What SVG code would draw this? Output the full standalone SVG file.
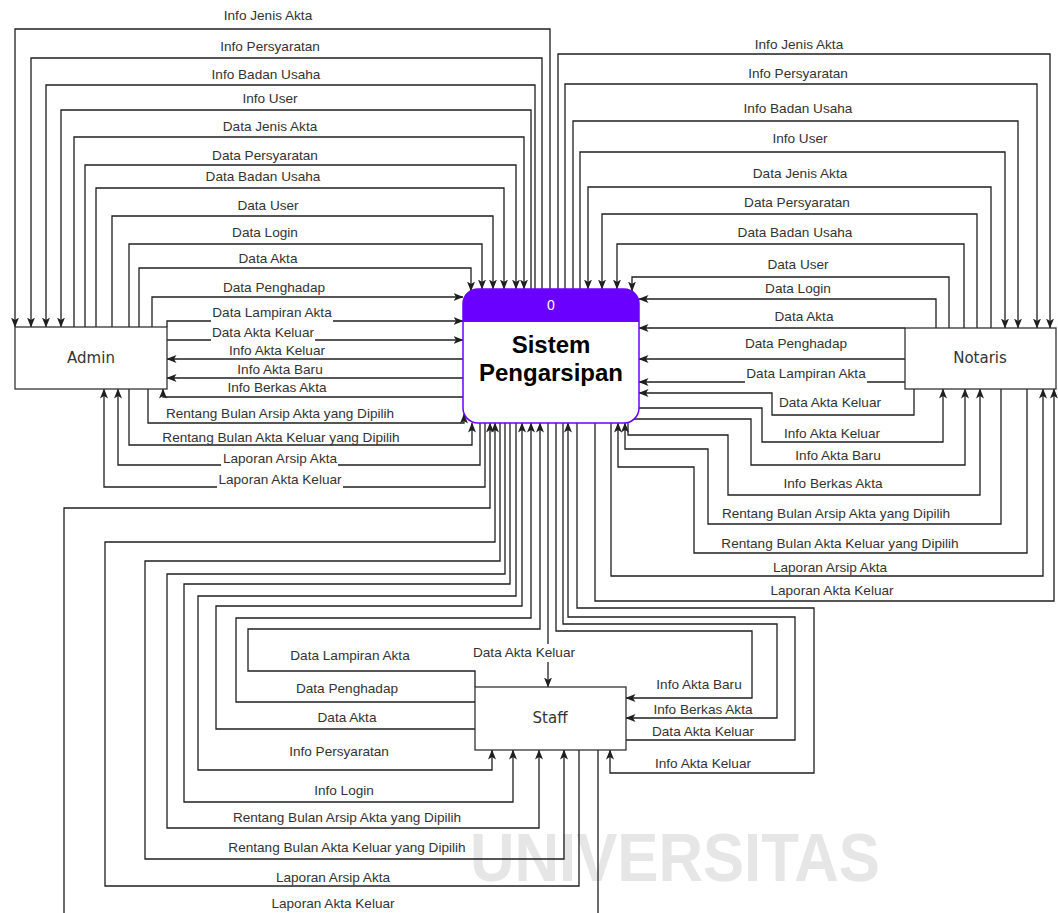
<svg xmlns="http://www.w3.org/2000/svg" width="1058" height="913" viewBox="0 0 1058 913">
<style>
.ln{fill:none;stroke:#1f1f1f;stroke-width:1.3;marker-end:url(#ah)}
.lb{font-family:"Liberation Sans",Arial,sans-serif;font-size:13.6px;fill:#333;text-anchor:middle}
.bg{fill:#fff}
.ent{fill:#fff;stroke:#333;stroke-width:1.3}
.et{font-family:"DejaVu Sans",Verdana,sans-serif;font-size:15px;fill:#333;text-anchor:middle}
.wm{font-family:"Liberation Sans",Arial,sans-serif;font-size:68px;font-weight:bold;fill:#e6e6e6}
</style>
<defs>
<marker id="ah" viewBox="0 0 10 8" refX="9.5" refY="4" markerWidth="10" markerHeight="8" markerUnits="userSpaceOnUse" orient="auto">
<path d="M0,0 L10,4 L0,8 L2.5,4z" fill="#1f1f1f"/>
</marker>
</defs>
<rect width="1058" height="913" fill="#fff"/>

<!-- background watermark lettering -->
<text class="wm" x="470" y="881" textLength="410" lengthAdjust="spacingAndGlyphs">UNIVERSITAS</text>

<g id="connectors">
<!-- Admin flows -->
<path class="ln" d="M550,289 V29 H15 V327"/>
<path class="ln" d="M542,289 V58 H31 V327"/>
<path class="ln" d="M535,289 V85 H46 V327"/>
<path class="ln" d="M531,289 V110 H61 V327"/>
<path class="ln" d="M74,327 V137 H524 V289"/>
<path class="ln" d="M85,327 V165 H516 V289"/>
<path class="ln" d="M96,327 V188 H504 V289"/>
<path class="ln" d="M112,327 V216 H493 V289"/>
<path class="ln" d="M129,327 V244 H482 V289"/>
<path class="ln" d="M139,327 V268 H471 V291"/>
<path class="ln" d="M152,327 V297 H463"/>
<path class="ln" d="M167,327 V321 H463"/>
<path class="ln" d="M167,340 H463"/>
<path class="ln" d="M463,359 H167"/>
<path class="ln" d="M463,378 H167"/>
<path class="ln" d="M463,397 H163 V389"/>
<path class="ln" d="M148,389 V423 H464 V414"/>
<path class="ln" d="M129,389 V445 H472 V423"/>
<path class="ln" d="M480,423 V465 H118 V389"/>
<path class="ln" d="M485,423 V487 H104 V389"/>
<!-- Notaris flows -->
<path class="ln" d="M558,289 V54 H1050 V328"/>
<path class="ln" d="M565,289 V84 H1037 V328"/>
<path class="ln" d="M573,289 V121 H1018 V328"/>
<path class="ln" d="M580,289 V152 H1005 V328"/>
<path class="ln" d="M991,328 V187 H588 V289"/>
<path class="ln" d="M977,328 V214 H602 V289"/>
<path class="ln" d="M964,328 V244 H617 V289"/>
<path class="ln" d="M949,328 V277 H632 V291"/>
<path class="ln" d="M936,328 V299 H639"/>
<path class="ln" d="M905,328 H639"/>
<path class="ln" d="M905,359 H639"/>
<path class="ln" d="M905,382 H639"/>
<path class="ln" d="M914,389 V415 H772 V393 H639"/>
<path class="ln" d="M639,408 H762 V442 H943 V389"/>
<path class="ln" d="M632,419 H751 V465 H965 V389"/>
<path class="ln" d="M628,422 V435 H728 V495 H980 V389"/>
<path class="ln" d="M1001,389 V524 H708 V449 H625 V423"/>
<path class="ln" d="M1027,389 V553 H694 V467 H618 V423"/>
<path class="ln" d="M611,423 V576 H1043 V389"/>
<path class="ln" d="M595,423 V601 H1054 V389"/>
<!-- Staff flows -->
<path class="ln" d="M598,750 V930 H64 V508 H490 V423"/>
<path class="ln" d="M579,750 V886 H105 V542 H495 V423"/>
<path class="ln" d="M500,423 V561 H145 V859 H564 V750"/>
<path class="ln" d="M505,423 V574 H167 V828 H539 V750"/>
<path class="ln" d="M510,423 V584 H184 V802 H513 V750"/>
<path class="ln" d="M516,423 V596 H198 V770 H492 V750"/>
<path class="ln" d="M475,729 H216 V606 H522 V423"/>
<path class="ln" d="M475,702 H236 V618 H531 V423"/>
<path class="ln" d="M475,687 V671 H248 V629 H540 V423"/>
<path class="ln" d="M548,423 V687"/>
<path class="ln" d="M556,423 V631 H752 V698 H626"/>
<path class="ln" d="M563,423 V624 H777 V718 H626"/>
<path class="ln" d="M626,740 H795 V617 H568 V423"/>
<path class="ln" d="M577,423 V608 H814 V773 H610 V750"/>
</g>

<g id="labels">
<text class="lb" x="268" y="20">Info Jenis Akta</text>
<text class="lb" x="270" y="51">Info Persyaratan</text>
<text class="lb" x="266" y="79">Info Badan Usaha</text>
<text class="lb" x="270" y="103">Info User</text>
<text class="lb" x="270" y="131">Data Jenis Akta</text>
<text class="lb" x="265" y="160">Data Persyaratan</text>
<text class="lb" x="263" y="181">Data Badan Usaha</text>
<text class="lb" x="268" y="210">Data User</text>
<text class="lb" x="265" y="237">Data Login</text>
<text class="lb" x="268" y="263">Data Akta</text>
<text class="lb" x="274" y="292">Data Penghadap</text>
<rect class="bg" x="211" y="303" width="122" height="20"/>
<text class="lb" x="272" y="317">Data Lampiran Akta</text>
<rect class="bg" x="211" y="323" width="104" height="19"/>
<text class="lb" x="263" y="337">Data Akta Keluar</text>
<text class="lb" x="277" y="355">Info Akta Keluar</text>
<text class="lb" x="280" y="374">Info Akta Baru</text>
<text class="lb" x="277" y="392">Info Berkas Akta</text>
<text class="lb" x="280" y="418">Rentang Bulan Arsip Akta yang Dipilih</text>
<text class="lb" x="281" y="442">Rentang Bulan Akta Keluar yang Dipilih</text>
<rect class="bg" x="221" y="450" width="117" height="17"/>
<text class="lb" x="280" y="463">Laporan Arsip Akta</text>
<rect class="bg" x="217" y="471" width="126" height="18"/>
<text class="lb" x="280" y="484">Laporan Akta Keluar</text>

<text class="lb" x="799" y="49">Info Jenis Akta</text>
<text class="lb" x="798" y="78">Info Persyaratan</text>
<text class="lb" x="798" y="113">Info Badan Usaha</text>
<text class="lb" x="800" y="143">Info User</text>
<text class="lb" x="800" y="178">Data Jenis Akta</text>
<text class="lb" x="797" y="207">Data Persyaratan</text>
<text class="lb" x="795" y="237">Data Badan Usaha</text>
<text class="lb" x="798" y="269">Data User</text>
<text class="lb" x="798" y="293">Data Login</text>
<text class="lb" x="804" y="321">Data Akta</text>
<text class="lb" x="796" y="348">Data Penghadap</text>
<rect class="bg" x="745" y="365" width="122" height="18"/>
<text class="lb" x="806" y="378">Data Lampiran Akta</text>
<text class="lb" x="830" y="407">Data Akta Keluar</text>
<text class="lb" x="832" y="438">Info Akta Keluar</text>
<text class="lb" x="838" y="460">Info Akta Baru</text>
<text class="lb" x="833" y="488">Info Berkas Akta</text>
<text class="lb" x="836" y="518">Rentang Bulan Arsip Akta yang Dipilih</text>
<text class="lb" x="840" y="548">Rentang Bulan Akta Keluar yang Dipilih</text>
<text class="lb" x="830" y="572">Laporan Arsip Akta</text>
<text class="lb" x="832" y="595">Laporan Akta Keluar</text>

<text class="lb" x="350" y="660">Data Lampiran Akta</text>
<text class="lb" x="347" y="693">Data Penghadap</text>
<text class="lb" x="347" y="722">Data Akta</text>
<text class="lb" x="339" y="756">Info Persyaratan</text>
<text class="lb" x="344" y="795">Info Login</text>
<text class="lb" x="347" y="822">Rentang Bulan Arsip Akta yang Dipilih</text>
<text class="lb" x="347" y="852">Rentang Bulan Akta Keluar yang Dipilih</text>
<text class="lb" x="333" y="882">Laporan Arsip Akta</text>
<text class="lb" x="333" y="908">Laporan Akta Keluar</text>
<rect class="bg" x="471" y="644" width="106" height="18"/>
<text class="lb" x="524" y="657">Data Akta Keluar</text>
<text class="lb" x="699" y="689">Info Akta Baru</text>
<text class="lb" x="703" y="714">Info Berkas Akta</text>
<text class="lb" x="703" y="736">Data Akta Keluar</text>
<text class="lb" x="703" y="768">Info Akta Keluar</text>
</g>

<g id="process-0">
<rect x="463" y="289" width="176" height="134" rx="15" ry="15" fill="#fff" stroke="#6a00ff" stroke-width="1.5"/>
<path d="M463,322 V304 A15,15 0 0 1 478,289 H624 A15,15 0 0 1 639,304 V322 Z" fill="#6a00ff"/>
<text x="551" y="310" font-family="Liberation Sans, Arial, sans-serif" font-size="14" fill="#fff" text-anchor="middle">0</text>
<text x="551" y="353" font-family="Liberation Sans, Arial, sans-serif" font-size="24" font-weight="bold" fill="#000" text-anchor="middle">Sistem</text>
<text x="551" y="381" font-family="Liberation Sans, Arial, sans-serif" font-size="24" font-weight="bold" fill="#000" text-anchor="middle">Pengarsipan</text>
</g>
<g id="admin">
<rect class="ent" x="15" y="327" width="152" height="62"/>
<text class="et" x="91" y="363">Admin</text>
</g>
<g id="notaris">
<rect class="ent" x="905" y="328" width="151" height="61"/>
<text class="et" x="980" y="363">Notaris</text>
</g>
<g id="staff">
<rect class="ent" x="475" y="687" width="151" height="63"/>
<text class="et" x="550" y="723">Staff</text>
</g>
</svg>
